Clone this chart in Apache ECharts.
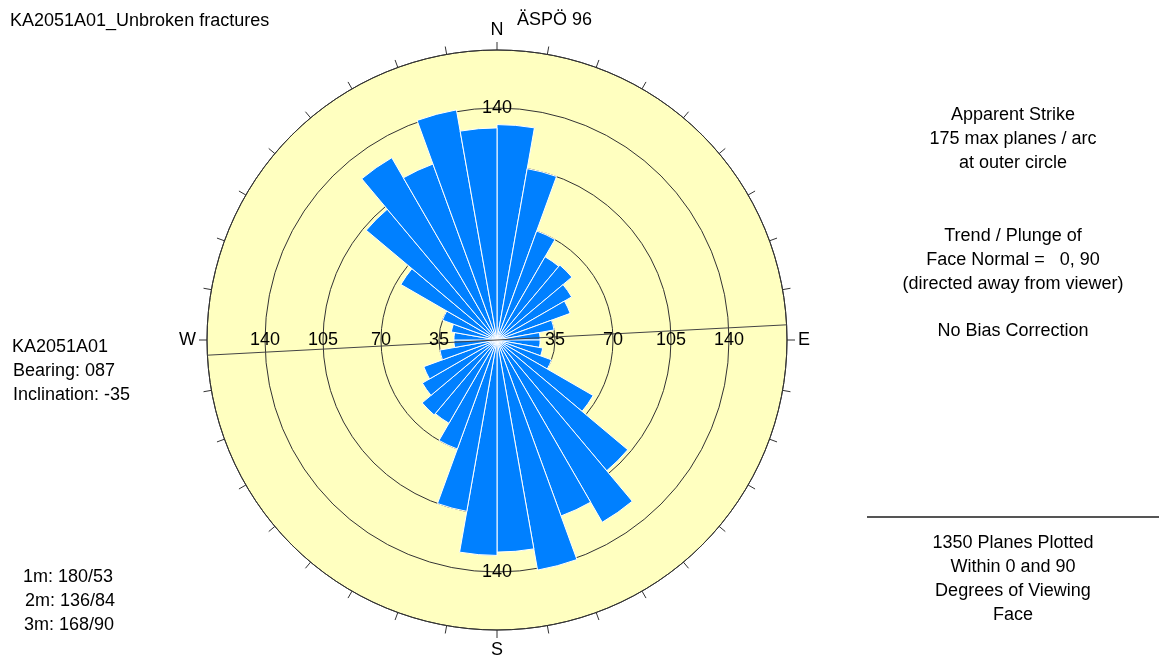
<!DOCTYPE html>
<html><head><meta charset="utf-8">
<script src="https://cdn.jsdelivr.net/npm/echarts@6/dist/echarts.min.js"></script>
<style>html,body{margin:0;padding:0;background:#fff}#c{width:1159px;height:660px}</style>
</head><body><div id="c"></div>
<script>
// ---- data ----
const binLabels = ['0-10','10-20','20-30','30-40','40-50','50-60','60-70','70-80','80-90',
  '90-100','100-110','110-120','120-130','130-140','140-150','150-160','160-170','170-180',
  '180-190','190-200','200-210','210-220','220-230','230-240','240-250','250-260','260-270',
  '270-280','280-290','290-300','300-310','310-320','320-330','330-340','340-350','350-360'];
const planeCounts = [130,105,70,58,59,52,47,35,26,
  26,28,35,67,103,127,113,141,128,
  130,105,70,58,59,52,47,35,26,
  26,28,35,67,103,127,113,141,128];
const ringTicks = [35,70,105,140];
const topBottomTicks = [140];
const compassLabels = {0:'N',90:'E',180:'S',270:'W'};
const bearingLine = [[194,87],[194,267]];   // [radius, azimuth] ends of the borehole bearing line (087)

const titleText = 'KA2051A01_Unbroken fractures';
const siteText = 'ÄSPÖ 96';
const boreholeLines = ['KA2051A01','Bearing: 087','Inclination: -35'];
const settingsLines = ['Apparent Strike','175 max planes / arc','at outer circle'];
const faceLines = ['Trend / Plunge of','Face Normal =   0, 90','(directed away from viewer)'];
const biasText = 'No Bias Correction';
const summaryLines = ['1350 Planes Plotted','Within 0 and 90','Degrees of Viewing','Face'];
const meanLines = ['1m: 180/53','2m: 136/84','3m: 168/90'];

// ---- chart ----
const F = '"Liberation Sans", Arial, sans-serif';
const CX = 497, CY = 340, R = 290;
const polarBox = {center:[CX, CY], radius:R};

function ringLabel(list){
  return {show:true, margin:0, align:'center', verticalAlign:'middle', fontSize:18,
    color:'#000', fontFamily:F, formatter: v => list.indexOf(v) >= 0 ? String(v) : ''};
}
function hiddenAngle(idx, start){
  return {polarIndex:idx, type:'value', min:0, max:360, startAngle:start, clockwise:true, show:false};
}
function labelRadius(idx, list){
  return {polarIndex:idx, type:'value', min:0, max:175, interval:35, z:10,
    axisLine:{show:false}, axisTick:{show:false}, splitLine:{show:false}, splitArea:{show:false},
    axisLabel: ringLabel(list)};
}

const graphics = [];
function txt(text, x, y, align){
  graphics.push({type:'text', x:x, y:y, style:{text:text, font:'18px ' + F, fill:'#000',
    align:align, textAlign:align, verticalAlign:'middle', textVerticalAlign:'middle'}});
}
txt(titleText, 10, 21, 'left');
txt(siteText, 517, 20, 'left');
boreholeLines.forEach((t,i)=>txt(t, i===0?12:13, 347+24*i, 'left'));
settingsLines.forEach((t,i)=>txt(t, 1013, 115+24*i, 'center'));
faceLines.forEach((t,i)=>txt(t, 1013, 236+24*i, 'center'));
txt(biasText, 1013, 331, 'center');
summaryLines.forEach((t,i)=>txt(t, 1013, 543+24*i, 'center'));
meanLines.forEach((t,i)=>txt(t, [23,25,24][i], 577+24*i, 'left'));
graphics.push({type:'line', shape:{x1:867,y1:517,x2:1159,y2:517}, style:{stroke:'#555', lineWidth:2}});

const option = {
  animation:false,
  backgroundColor:'#fff',
  polar:[polarBox, polarBox, polarBox, polarBox, polarBox],
  angleAxis:[
    {polarIndex:0, type:'category', data:binLabels, startAngle:90, clockwise:true, boundaryGap:true,
     axisLine:{show:false},
     axisTick:{show:true, interval:0, inside:false, length:8, lineStyle:{color:'#333', width:1}},
     axisLabel:{show:false}, splitLine:{show:false}, splitArea:{show:false}},
    {polarIndex:1, type:'value', min:0, max:360, interval:90, startAngle:90, clockwise:true,
     axisLine:{show:true, lineStyle:{color:'#333', width:1}},
     axisTick:{show:false}, splitLine:{show:false}, splitArea:{show:false},
     axisLabel:{show:true, margin:11, fontSize:18, color:'#000', fontFamily:F,
       formatter: v => compassLabels[v] || ''}},
    hiddenAngle(2, 0),
    hiddenAngle(3, 180),
    hiddenAngle(4, 270)
  ],
  radiusAxis:[
    {polarIndex:0, type:'value', min:0, max:175, interval:35,
     axisLine:{show:false}, axisTick:{show:false}, axisLabel:{show:false},
     splitLine:{show:false},
     splitArea:{show:true, areaStyle:{color:['#FFFFC0']}}},
    {polarIndex:1, type:'value', min:0, max:175, interval:35,
     axisLine:{show:false}, axisTick:{show:false},
     splitLine:{show:true, lineStyle:{color:'#333', width:1}},
     splitArea:{show:false},
     axisLabel: ringLabel(topBottomTicks)},
    labelRadius(2, ringTicks),
    labelRadius(3, ringTicks),
    labelRadius(4, topBottomTicks)
  ],
  series:[
    {type:'bar', coordinateSystem:'polar', polarIndex:0, data:planeCounts, barCategoryGap:'0%',
     itemStyle:{color:'#0080FF', borderColor:'#ffffff', borderWidth:1}, z:2},
    {type:'line', coordinateSystem:'polar', polarIndex:1, data:bearingLine, symbol:'none', clip:false,
     lineStyle:{color:'#444', width:1}, z:5}
  ],
  graphic:{elements:graphics}
};
const chart = echarts.init(document.getElementById('c'), null, {renderer:'canvas'});
chart.setOption(option);
</script></body></html>
